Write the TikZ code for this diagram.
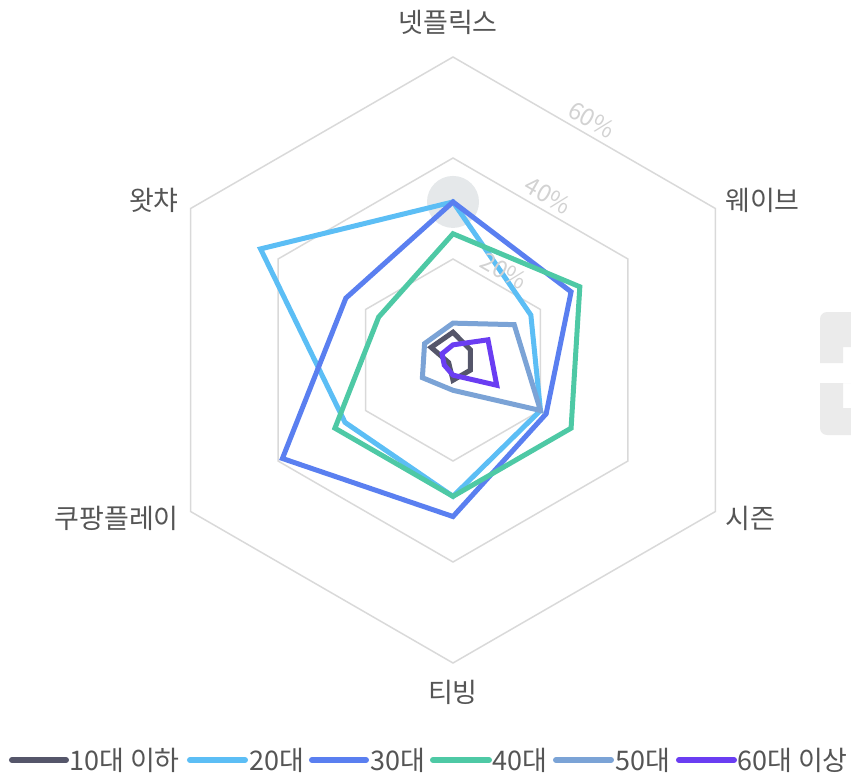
\documentclass[tikz,border=0pt]{standalone}
\usepackage{fontspec}
\newfontfamily\kr{Noto Sans CJK KR}
\definecolor{gridgray}{HTML}{D9D9D9}
\definecolor{labelgray}{HTML}{555555}
\definecolor{pctgray}{HTML}{D2D2D2}
\definecolor{markgray}{HTML}{E5E8EA}
\definecolor{wmgray}{HTML}{EBEBEB}
\definecolor{teen}{HTML}{55566A}
\definecolor{twenty}{HTML}{5CBEF5}
\definecolor{thirty}{HTML}{5A7FF0}
\definecolor{forty}{HTML}{4EC9A5}
\definecolor{fifty}{HTML}{7BA3D6}
\definecolor{sixty}{HTML}{6A3DF2}
\begin{document}
\begin{tikzpicture}[x=1pt,y=1pt,
    grid/.style={draw=gridgray,line width=1.5pt},
    series/.style={line width=5pt,line join=miter},
    lbl/.style={font=\kr\fontsize{27}{30}\selectfont,text=labelgray,inner sep=0pt},
    pct/.style={font=\kr\fontsize{24}{26}\selectfont,text=pctgray,rotate=-30,inner sep=0pt},
    key/.style={line width=6pt,line cap=round},
    keytxt/.style={font=\kr\fontsize{27}{30}\selectfont,text=labelgray,inner sep=0pt,anchor=west}]
    \useasboundingbox (-453,-417) rectangle (398,360);
    %% watermark at the right edge
    \fill[wmgray] (398,48) [rounded corners=7pt] -- (367,48) [sharp corners] -- (367,-3) -- (390,-3) -- (390,13) -- (398,13) -- cycle;
    \fill[wmgray] (398,-23) -- (367,-23) [rounded corners=7pt] -- (367,-75) [sharp corners] -- (398,-75) -- (398,-48) -- (390,-48) -- (390,-23) -- cycle;
    \begin{scope}[x=5.05pt,y=5.05pt]
        %% grid
        \foreach \r in {20,40,60}
            \draw[grid] (90:\r) -- (30:\r) -- (-30:\r) -- (-90:\r) -- (-150:\r) -- (150:\r) -- cycle;
        %% hovered point
        \fill[markgray] (90:31.3) circle (5.15);
        %% series
        \draw[series,teen] (90:5.5) -- (30:4) -- (-30:4) -- (-90:4) -- (-150:1) -- (150:5) -- cycle;
        \draw[series,twenty] (90:31.3) -- (30:17.8) -- (-30:20) -- (-90:27) -- (-150:24.7) -- (150:44) -- cycle;
        \draw[series,thirty] (90:31.3) -- (30:27) -- (-30:21.3) -- (-90:31) -- (-150:39) -- (150:24.5) -- cycle;
        \draw[series,forty] (90:25) -- (30:29) -- (-30:27) -- (-90:27) -- (-150:27) -- (150:17) -- cycle;
        \draw[series,fifty] (90:7.3) -- (30:14) -- (-30:20) -- (-90:6) -- (-150:7) -- (150:6.5) -- cycle;
        \draw[series,sixty] (90:3) -- (30:8) -- (-30:10) -- (-90:3) -- (-150:2) -- (150:2.5) -- cycle;
    \end{scope}
    %% scale labels
    \node[pct] (p20) at (60:102.5) {20\%};
    \node[pct] (p40) at (60:190) {40\%};
    \node[pct] (p60) at (60:277.5) {60\%};
    %% axis labels
    \node[lbl] (netflix) at (-5,338) {넷플릭스};
    \node[lbl,anchor=west] (wavve) at (272,160) {웨이브};
    \node[lbl,anchor=west] (seezn) at (272,-158) {시즌};
    \node[lbl] (tving) at (0,-332) {티빙};
    \node[lbl,anchor=east] (coupang) at (-274,-158) {쿠팡플레이};
    \node[lbl,anchor=east] (watcha) at (-274,160) {왓챠};
    %% legend
    \foreach \a/\b/\t/\c/\n in {-441/-387/-384/teen/10대 이하,-263/-208/-204/twenty/20대,-141/-87/-83/thirty/30대,-20/36/39/forty/40대,103/158/162/fifty/50대,226/281/284/sixty/60대 이상}{
        \coordinate (k\a) at (\a,-400);
        \coordinate (e\a) at (\b,-400);
        \draw[key,\c] (k\a) -- (e\a);
        \node[keytxt] (t\a) at (\t,-400) {\n};
    }
\end{tikzpicture}
\end{document}
